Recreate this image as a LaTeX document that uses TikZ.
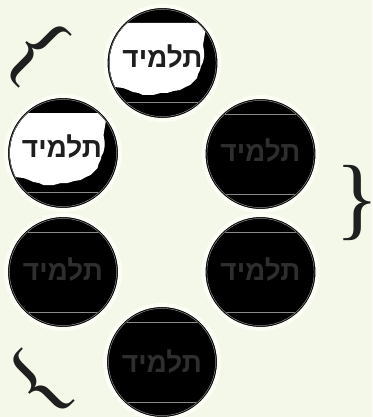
\documentclass[tikz,border=0pt]{standalone}
\usepackage{fontspec}
\newfontfamily\hebfont[Script=Hebrew]{Liberation Sans}
\newfontfamily\bracefont{Liberation Serif}
\TeXXeTstate=1
\definecolor{bg}{HTML}{F3F8E8}
\definecolor{halo}{HTML}{FCFEF6}
\definecolor{wordonwhite}{HTML}{1E1E1E}
\definecolor{wordonblack}{HTML}{2E2E2E}
\definecolor{chord}{HTML}{8A8A8A}
\tikzset{
  disc/.style={circle, fill=black, draw=halo, line width=4pt, minimum size=114pt, inner sep=0pt, outer sep=0pt},
  word/.style={font=\hebfont\bfseries\fontsize{28}{28}\selectfont, inner sep=2pt},
  bracemark/.style={font=\bracefont\fontsize{91}{91}\selectfont, inner sep=6pt, text=black!88},
  ringline/.style={draw=chord, line width=0.5pt},
  chordline/.style={draw=chord, line width=0.6pt},
}
\newcommand{\whitepatch}{%
  \fill[white] (-60,-40) -- (44.5,-40) -- (43.5,-34) -- (42.5,-30) -- (41.5,-24) -- (40.5,-18) -- (41.5,-12) -- (41.5,-6) -- (40.5,-1)
    -- (38.5,3) -- (37.5,7) -- (35.5,11) -- (34.5,15) -- (31.5,18) -- (27.5,22) -- (23,24) -- (17.5,27) -- (11,28) -- (4.5,30)
    -- (-2,30) -- (-9.5,32) -- (-19.5,32) -- (-24,30) -- (-29.5,29) -- (-34,27) -- (-39.5,25) -- (-47.5,24) -- (-60,24) -- cycle;}
\begin{document}
\begin{tikzpicture}[x=1pt,y=-1pt]
\useasboundingbox (0,0) rectangle (372,417);
\fill[bg] (0,0) rectangle (372,417);

% discs
\node[disc] (a) at (162.5,63) {};
\node[disc] (b) at (63,153) {};
\node[disc] (c) at (260.5,154) {};
\node[disc] (d) at (63,272) {};
\node[disc] (e) at (260.5,272) {};
\node[disc] (f) at (162,362) {};

% white patches on the first two discs
\foreach \n in {a,b}{
  \begin{scope}[shift={(\n.center)}]
    \begin{scope}
      \clip (0,0) circle (53pt);
      \whitepatch
      \draw[chordline] (-60,39) -- (60,39);
    \end{scope}
    \draw[ringline] (0,0) circle (53.6pt);
  \end{scope}
}
% dark discs
\foreach \n in {c,d,e,f}{
  \begin{scope}[shift={(\n.center)}]
    \begin{scope}
      \clip (0,0) circle (53pt);
      \draw[chordline] (-60,-40) -- (60,-40);
      \draw[chordline] (-60,40) -- (60,40);
    \end{scope}
    \draw[ringline] (0,0) circle (53.6pt);
  \end{scope}
}

% words
\node[word, text=wordonwhite] (ta) at (162.5,57) {\beginR תלמיד\endR};
\node[word, text=wordonwhite] (tb) at (62,147) {\beginR תלמיד\endR};
\node[word, text=wordonblack] (tc) at (260.5,151) {\beginR תלמיד\endR};
\node[word, text=wordonblack] (td) at (63,270) {\beginR תלמיד\endR};
\node[word, text=wordonblack] (te) at (260.5,270) {\beginR תלמיד\endR};
\node[word, text=wordonblack] (tf) at (162,362) {\beginR תלמיד\endR};

% braces
\node[bracemark, rotate=-45] (br1) at (36,52) {\{};
\node[bracemark] (br2) at (357,203) {\}};
\node[bracemark, rotate=45] (br3) at (39,384) {\{};
\end{tikzpicture}
\end{document}
